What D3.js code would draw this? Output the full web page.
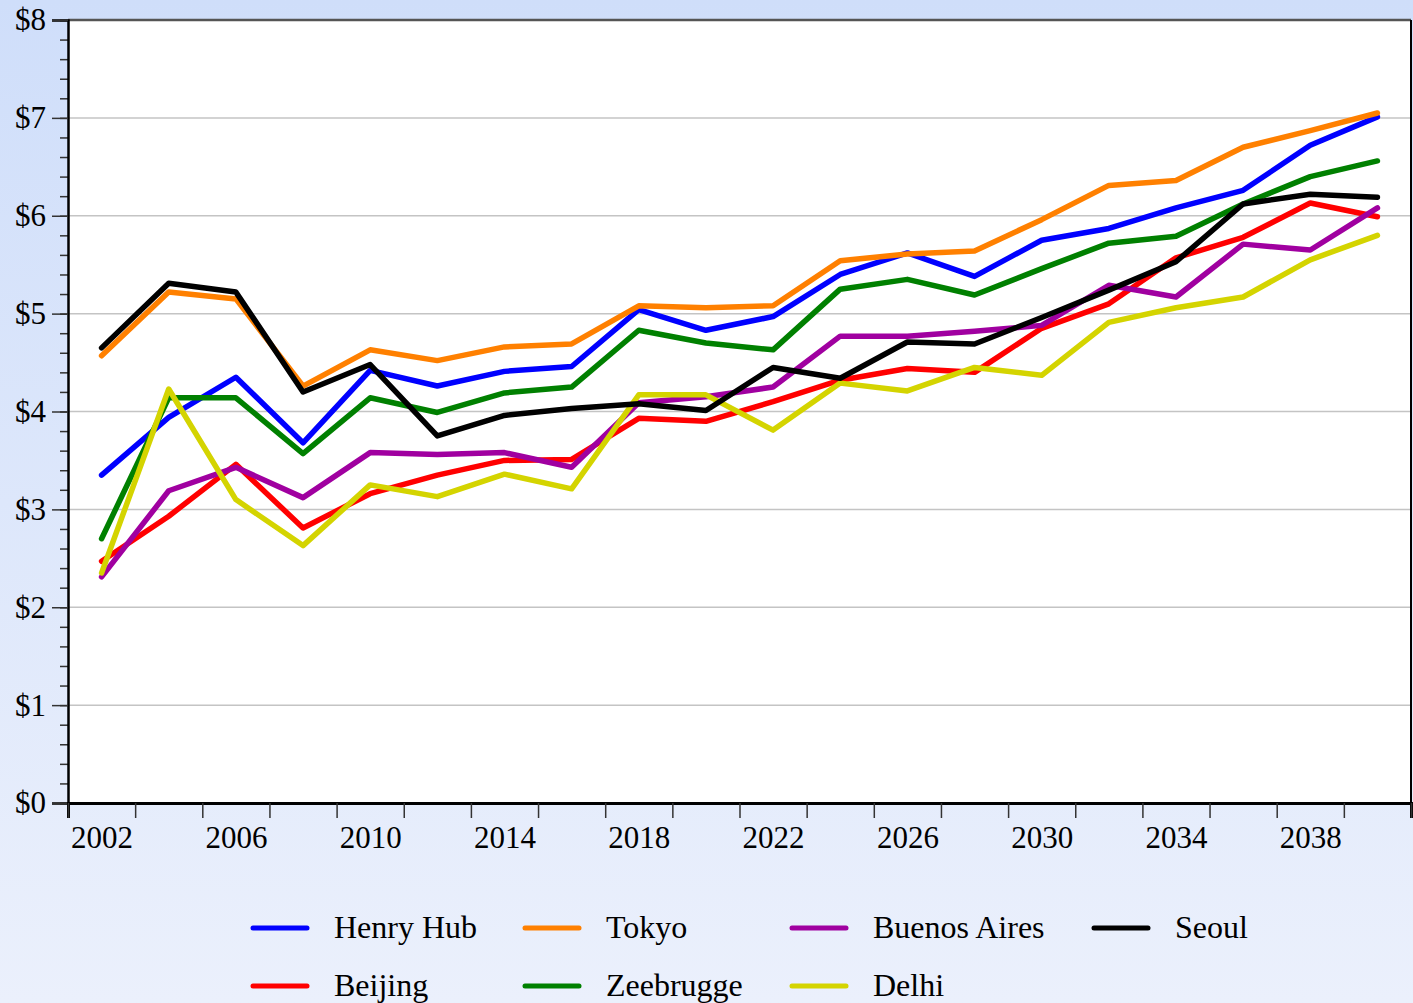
<!DOCTYPE html>
<html>
<head>
<meta charset="utf-8">
<script src="https://cdn.jsdelivr.net/npm/d3@7"></script>
<style>
  body { margin: 0; }
  svg { display: block; font-family: "Liberation Serif", "Times New Roman", serif; }
</style>
</head>
<body>
<script>
const years = [2002, 2004, 2006, 2008, 2010, 2012, 2014, 2016, 2018, 2020,
               2022, 2024, 2026, 2028, 2030, 2032, 2034, 2036, 2038, 2040];
const henryHub    = [3.35, 3.94, 4.35, 3.68, 4.42, 4.26, 4.41, 4.46, 5.04, 4.83, 4.97, 5.40, 5.62, 5.38, 5.75, 5.87, 6.08, 6.26, 6.72, 7.01];
const tokyo       = [4.57, 5.22, 5.15, 4.26, 4.63, 4.52, 4.66, 4.69, 5.08, 5.06, 5.08, 5.54, 5.61, 5.64, 5.96, 6.31, 6.36, 6.70, 6.87, 7.05];
const buenosAires = [2.31, 3.19, 3.43, 3.12, 3.58, 3.56, 3.58, 3.43, 4.09, 4.15, 4.25, 4.77, 4.77, 4.82, 4.88, 5.29, 5.17, 5.71, 5.65, 6.08];
const seoul       = [4.65, 5.31, 5.22, 4.20, 4.48, 3.75, 3.96, 4.03, 4.08, 4.01, 4.45, 4.34, 4.71, 4.69, 4.96, 5.24, 5.53, 6.12, 6.22, 6.19];
const beijing     = [2.47, 2.93, 3.46, 2.81, 3.16, 3.35, 3.50, 3.51, 3.93, 3.90, 4.10, 4.32, 4.44, 4.40, 4.85, 5.10, 5.57, 5.78, 6.13, 5.99];
const zeebrugge   = [2.70, 4.14, 4.14, 3.57, 4.14, 3.99, 4.19, 4.25, 4.83, 4.70, 4.63, 5.25, 5.35, 5.19, 5.46, 5.72, 5.79, 6.12, 6.40, 6.56];
const delhi       = [2.35, 4.23, 3.10, 2.63, 3.25, 3.13, 3.36, 3.21, 4.17, 4.17, 3.81, 4.29, 4.21, 4.45, 4.37, 4.91, 5.06, 5.17, 5.55, 5.80];

const seriesNames = ["Henry Hub", "Tokyo", "Buenos Aires", "Seoul", "Beijing", "Zeebrugge", "Delhi"];
const seriesValues = [henryHub, tokyo, buenosAires, seoul, beijing, zeebrugge, delhi];
const seriesColors = ["#0000ff", "#ff8000", "#a000a0", "#000000", "#ff0000", "#008000", "#d4d400"];
const drawOrder = [0, 1, 4, 5, 2, 6, 3];

const yTicks = [0, 1, 2, 3, 4, 5, 6, 7, 8];
const xLabelYears = [2002, 2006, 2010, 2014, 2018, 2022, 2026, 2030, 2034, 2038];

const W = 1413, H = 1003;
const mLeft = 68, mRight = 1411, mTop = 20, mBottom = 803;

const svg = d3.select("body").append("svg")
  .attr("width", W).attr("height", H);

const defs = svg.append("defs");
const grad = defs.append("linearGradient").attr("id", "bg")
  .attr("x1", 0).attr("y1", 0).attr("x2", 0).attr("y2", 1);
grad.append("stop").attr("offset", "0%").attr("stop-color", "#cfdefa");
grad.append("stop").attr("offset", "100%").attr("stop-color", "#ebf0fc");
svg.append("rect").attr("width", W).attr("height", H).attr("fill", "url(#bg)");

const x = d3.scaleLinear().domain([2001, 2041]).range([mLeft, mRight]);
const y = d3.scaleLinear().domain([0, 8]).range([mBottom, mTop]);

// plot area
svg.append("rect")
  .attr("x", mLeft).attr("y", mTop)
  .attr("width", mRight - mLeft).attr("height", mBottom - mTop)
  .attr("fill", "#fff");

// gridlines
svg.append("g").selectAll("line")
  .data(yTicks.filter(d => d > 0 && d < 8))
  .join("line")
  .attr("x1", mLeft).attr("x2", mRight)
  .attr("y1", d => y(d)).attr("y2", d => y(d))
  .attr("stroke", "#c4c4c4").attr("stroke-width", 1.5);

// top and right borders
svg.append("line").attr("x1", mLeft).attr("x2", mRight).attr("y1", mTop).attr("y2", mTop)
  .attr("stroke", "#555").attr("stroke-width", 2.5);
svg.append("line").attr("x1", mRight).attr("x2", mRight).attr("y1", mTop).attr("y2", mBottom)
  .attr("stroke", "#000").attr("stroke-width", 2);

// series lines
const line = d3.line()
  .x((d, i) => x(years[i]))
  .y(d => y(d));

svg.append("g").selectAll("path")
  .data(drawOrder)
  .join("path")
  .attr("d", k => line(seriesValues[k]))
  .attr("fill", "none")
  .attr("stroke", k => seriesColors[k])
  .attr("stroke-width", 5.5)
  .attr("stroke-linejoin", "round")
  .attr("stroke-linecap", "round");

// y axis: minor ticks
svg.append("g")
  .attr("transform", `translate(${mLeft},0)`)
  .call(d3.axisLeft(y).tickValues(d3.range(0, 41).map(i => i / 5)).tickSize(8).tickFormat(""))
  .call(g => g.select(".domain").remove())
  .call(g => g.selectAll("line").attr("stroke", "#333").attr("stroke-width", 1.5));

// y axis: major ticks + labels
svg.append("g")
  .attr("transform", `translate(${mLeft},0)`)
  .call(d3.axisLeft(y).tickValues(yTicks).tickSize(16).tickPadding(6).tickFormat(d => "$" + d))
  .call(g => g.select(".domain").attr("stroke", "#000").attr("stroke-width", 2.5))
  .call(g => g.selectAll("line").attr("stroke", "#333").attr("stroke-width", 1.5))
  .call(g => g.selectAll("text").attr("font-size", 31).attr("fill", "#000")
    .attr("font-family", "Liberation Serif"));

// x axis: ticks at odd years
svg.append("g")
  .attr("transform", `translate(0,${mBottom})`)
  .call(d3.axisBottom(x).tickValues(d3.range(2001, 2042, 2)).tickSize(15).tickFormat(""))
  .call(g => g.select(".domain").attr("stroke", "#000").attr("stroke-width", 3))
  .call(g => g.selectAll("line").attr("stroke", "#333").attr("stroke-width", 1.5));

// x axis labels
svg.append("g")
  .attr("transform", `translate(0,${mBottom})`)
  .call(d3.axisBottom(x).tickValues(xLabelYears).tickSize(0).tickPadding(23).tickFormat(d3.format("d")))
  .call(g => g.select(".domain").remove())
  .call(g => g.selectAll("text").attr("font-size", 31).attr("fill", "#000")
    .attr("font-family", "Liberation Serif"));

// legend
const legCols = [253, 525, 792, 1094];
const legRows = [928, 986];
const leg = svg.append("g").selectAll("g")
  .data(seriesNames)
  .join("g")
  .attr("transform", (d, i) => `translate(${legCols[i % 4]},${legRows[Math.floor(i / 4)]})`);
leg.append("line")
  .attr("x1", 0).attr("x2", 54)
  .attr("stroke", (d, i) => seriesColors[i])
  .attr("stroke-width", 5)
  .attr("stroke-linecap", "round");
leg.append("text")
  .attr("x", 81).attr("dy", "0.3em")
  .attr("font-size", 32)
  .attr("fill", "#000")
  .text(d => d);
</script>
</body>
</html>
